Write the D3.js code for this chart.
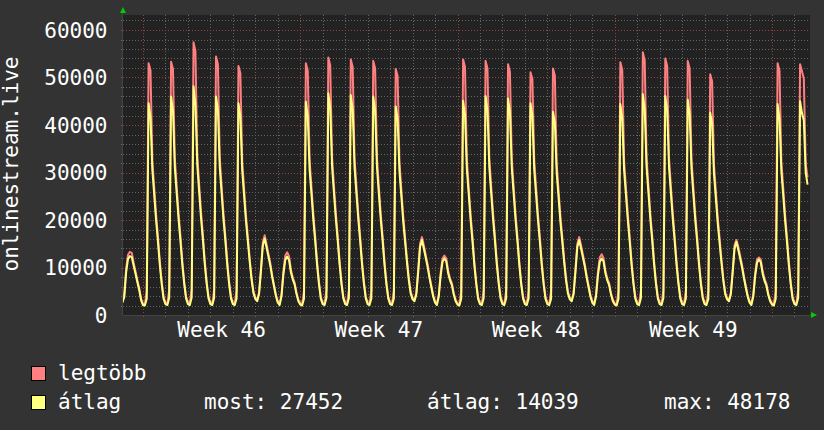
<!DOCTYPE html>
<html>
<head>
<meta charset="utf-8">
<script src="https://cdn.jsdelivr.net/npm/d3@7"></script>
<style>
  body { margin: 0; background: #333333; }
  svg { display: block; }
  text { font-family: "DejaVu Sans Mono", monospace; fill: #ffffff; font-size: 21px; }
</style>
</head>
<body>
<svg id="chart" width="824" height="430"></svg>
<script>
// samples every 2 hours, first one Sunday 14 Nov 2021 02:00
const startTime = Date.UTC(2021, 10, 14, 2);
const stepHours = 2;

// átlag (average)
const atlag = [
  2600, 3800, 9000, 11800, 12400, 12200, 10400, 8700, 6900, 5200, 3100,               // Sun
  2100, 2000, 3400, 44600, 41600, 30500, 25300, 19900, 15400, 10500, 6500, 3400,      // wk46 Mon
  2300, 2100, 3600, 46000, 43100, 31000, 25600, 20200, 15600, 10600, 6600, 3500,
  2300, 2100, 3700, 48178, 44300, 31500, 25900, 20400, 15800, 10700, 6600, 3500,
  2300, 2100, 3600, 46000, 43300, 31100, 25600, 20100, 15600, 10600, 6500, 3500,
  2300, 2100, 3500, 44600, 41900, 30400, 25100, 19800, 15500, 11200, 7400, 4600,
  3400, 2900, 4400, 9200, 14600, 16100, 14200, 12300, 10400, 8000, 6000, 4000,
  2600, 2100, 4000, 8600, 11600, 12300, 11600, 9000, 7500, 6400, 4400, 2900,
  2200, 2000, 3400, 44900, 41800, 30600, 25400, 20000, 15500, 10500, 6500, 3400,      // wk47 Mon
  2300, 2100, 3600, 46700, 43600, 31200, 25700, 20300, 15700, 10700, 6600, 3500,
  2300, 2100, 3600, 46300, 43300, 31100, 25600, 20200, 15600, 10600, 6600, 3500,
  2300, 2100, 3500, 46000, 43000, 31000, 25500, 20100, 15600, 10600, 6500, 3500,
  2300, 2100, 3500, 43900, 41300, 30200, 25000, 19700, 15400, 11100, 7300, 4500,
  3300, 2900, 4300, 9000, 14300, 15800, 14000, 12100, 10200, 7900, 5900, 3900,
  2600, 2100, 3900, 8300, 11200, 11900, 11300, 8800, 7300, 6300, 4300, 2900,
  2200, 2000, 3400, 45100, 42000, 30700, 25400, 20000, 15500, 10500, 6500, 3400,      // wk48 Mon
  2300, 2100, 3600, 46100, 43100, 31000, 25600, 20200, 15600, 10600, 6600, 3500,
  2300, 2100, 3500, 45600, 42700, 30900, 25500, 20100, 15600, 10600, 6500, 3500,
  2300, 2100, 3500, 44600, 41800, 30500, 25200, 19900, 15400, 10500, 6500, 3400,
  2300, 2100, 3400, 42800, 40500, 29800, 24700, 19500, 15300, 11000, 7200, 4500,
  3300, 2900, 4300, 9000, 14300, 15800, 14000, 12100, 10200, 7900, 5900, 3900,
  2600, 2100, 3900, 8300, 11200, 11900, 11300, 8800, 7300, 6300, 4300, 2900,
  2200, 2000, 3400, 44400, 41400, 30400, 25200, 19900, 15400, 10500, 6500, 3400,      // wk49 Mon
  2300, 2100, 3600, 46500, 43400, 31100, 25700, 20200, 15700, 10700, 6600, 3500,
  2300, 2100, 3600, 46100, 43100, 31000, 25600, 20200, 15600, 10600, 6600, 3500,
  2300, 2100, 3500, 45300, 42400, 30800, 25400, 20000, 15500, 10600, 6500, 3500,
  2300, 2100, 3400, 42600, 40300, 29700, 24600, 19400, 15200, 11000, 7200, 4400,
  3300, 2900, 4300, 8900, 14000, 15400, 13700, 11900, 10000, 7800, 5800, 3900,
  2600, 2100, 3900, 8200, 11000, 11700, 11100, 8700, 7200, 6200, 4200, 2900,
  2200, 2000, 3400, 44400, 41400, 30300, 25200, 19900, 15400, 10500, 6500, 3400,      // wk50 Mon
  2300, 2100, 3600, 45000, 42500, 41000, 30000, 27452
];

// legtöbb (maximum)
const legtobb = [
  2900, 4300, 9800, 12700, 13300, 13100, 11000, 9200, 7300, 5600, 3400,
  2400, 2300, 5000, 53000, 51500, 32500, 26800, 21100, 16400, 11200, 7000, 3800,
  2600, 2400, 5300, 53300, 51800, 33000, 27100, 21400, 16600, 11300, 7100, 3900,
  2700, 2400, 5500, 57400, 55600, 33600, 27500, 21700, 16800, 11400, 7100, 3900,
  2700, 2400, 5300, 54400, 52800, 33100, 27100, 21300, 16600, 11300, 7000, 3900,
  2600, 2400, 5200, 52400, 50900, 32400, 26600, 21000, 16500, 11900, 7900, 5000,
  3700, 3200, 4800, 9800, 15300, 16800, 14900, 12900, 10900, 8400, 6300, 4300,
  2900, 2400, 4400, 9200, 12500, 13200, 12400, 9600, 7900, 6800, 4700, 3200,
  2500, 2300, 5000, 53000, 51400, 32600, 26900, 21200, 16500, 11200, 7000, 3800,
  2600, 2400, 5300, 54200, 52600, 33200, 27200, 21500, 16700, 11400, 7100, 3900,
  2700, 2400, 5300, 53800, 52200, 33100, 27100, 21400, 16600, 11300, 7100, 3900,
  2600, 2400, 5200, 53500, 51900, 33000, 27000, 21300, 16600, 11300, 7000, 3900,
  2600, 2400, 5100, 51800, 50300, 32200, 26500, 20900, 16400, 11800, 7800, 4900,
  3600, 3200, 4700, 9600, 15000, 16400, 14700, 12700, 10700, 8300, 6200, 4200,
  2900, 2400, 4300, 8900, 11900, 12500, 11900, 9300, 7700, 6700, 4600, 3200,
  2500, 2300, 5000, 53800, 52200, 32700, 26900, 21200, 16500, 11200, 7000, 3800,
  2600, 2400, 5300, 53500, 51900, 33000, 27100, 21400, 16600, 11300, 7100, 3900,
  2600, 2400, 5200, 52800, 51200, 32900, 27000, 21300, 16600, 11300, 7000, 3900,
  2600, 2400, 5100, 51100, 49700, 32500, 26700, 21100, 16400, 11200, 7000, 3800,
  2600, 2400, 5000, 51900, 50400, 31800, 26200, 20700, 16300, 11700, 7700, 4900,
  3600, 3200, 4700, 9600, 15000, 16400, 14700, 12700, 10700, 8300, 6200, 4200,
  2900, 2400, 4300, 9000, 12100, 12800, 12000, 9300, 7700, 6700, 4600, 3200,
  2500, 2300, 5000, 53200, 51600, 32400, 26700, 21100, 16400, 11200, 7000, 3800,
  2600, 2400, 5300, 55300, 53600, 33100, 27200, 21400, 16700, 11400, 7100, 3900,
  2600, 2400, 5300, 54000, 52400, 33000, 27100, 21400, 16600, 11300, 7100, 3900,
  2600, 2400, 5200, 53500, 51900, 32800, 26900, 21200, 16500, 11300, 7000, 3900,
  2600, 2400, 5000, 50700, 49200, 31700, 26100, 20600, 16200, 11700, 7700, 4800,
  3600, 3200, 4700, 9500, 14700, 15800, 14400, 12500, 10500, 8200, 6100, 4200,
  2900, 2400, 4300, 8800, 11700, 12100, 11700, 9200, 7600, 6600, 4500, 3200,
  2500, 2300, 5000, 53000, 51400, 32300, 26700, 21100, 16400, 11200, 7000, 3800,
  2600, 2400, 5300, 52800, 51300, 49800, 31800, 29000
];

const yTicks = [0, 10000, 20000, 30000, 40000, 50000, 60000];
const yMinorStep = 2000;
const yTitle = "onlinestream.live";
const legendNames = ["legtöbb", "átlag"];
const legendColors = ["#ff8080", "#ffff80"];
const statLabels = ["most: 27452", "átlag: 14039", "max: 48178"];
const statX = [204, 427, 664];

var w = 824, h = 430;
var pLeft = 123, pRight = 810, pTop = 15, pBottom = 315;
var minorColor = "#656565", majorColor = "#9a4242";

var svg = d3.select("#chart");
svg.append("rect").attr("width", w).attr("height", h).attr("fill", "#333333");
svg.append("rect")
  .attr("x", pLeft).attr("y", pTop)
  .attr("width", pRight - pLeft).attr("height", pBottom - pTop)
  .attr("fill", "#222222");

var x = d3.scaleUtc()
  .domain([new Date(Date.UTC(2021, 10, 15)), new Date(Date.UTC(2021, 11, 13))])
  .range([143, 772]);
var y = d3.scaleLinear().domain([0, 60000]).range([pBottom, 30]);

var t0 = x.invert(pLeft), t1 = x.invert(pRight);
var days = d3.utcDay.range(t0, t1);
var weeks = d3.utcMonday.range(t0, t1);
var yMinor = d3.range(yMinorStep, y.invert(pTop), yMinorStep);

var grid = svg.append("g");
// minor grid
grid.selectAll(".vmin").data(days).enter().append("line")
  .attr("x1", d => Math.round(x(d)) + 0.5).attr("x2", d => Math.round(x(d)) + 0.5)
  .attr("y1", pTop).attr("y2", pBottom)
  .attr("stroke", minorColor).attr("stroke-dasharray", "1,2");
grid.selectAll(".hmin").data(yMinor).enter().append("line")
  .attr("x1", pLeft).attr("x2", pRight)
  .attr("y1", d => Math.round(y(d)) + 0.5).attr("y2", d => Math.round(y(d)) + 0.5)
  .attr("stroke", minorColor).attr("stroke-dasharray", "1,2");
// major grid
grid.selectAll(".vmaj").data(weeks).enter().append("line")
  .attr("x1", d => Math.round(x(d)) + 0.5).attr("x2", d => Math.round(x(d)) + 0.5)
  .attr("y1", pTop).attr("y2", pBottom)
  .attr("stroke", majorColor).attr("stroke-dasharray", "1,2");
grid.selectAll(".hmaj").data(yTicks.slice(1)).enter().append("line")
  .attr("x1", pLeft).attr("x2", pRight)
  .attr("y1", d => Math.round(y(d)) + 0.5).attr("y2", d => Math.round(y(d)) + 0.5)
  .attr("stroke", majorColor).attr("stroke-dasharray", "1,2");

// little ticks outside the plot
grid.selectAll(".vtick").data(days).enter().append("line")
  .attr("x1", d => Math.round(x(d)) + 0.5).attr("x2", d => Math.round(x(d)) + 0.5)
  .attr("y1", pBottom).attr("y2", pBottom + 2)
  .attr("stroke", d => d.getUTCDay() == 1 ? majorColor : minorColor);
grid.selectAll(".htick").data(yMinor).enter().append("line")
  .attr("x1", pLeft - 2).attr("x2", pLeft)
  .attr("y1", d => Math.round(y(d)) + 0.5).attr("y2", d => Math.round(y(d)) + 0.5)
  .attr("stroke", d => d % 10000 == 0 ? majorColor : minorColor);

// axes
svg.append("line").attr("x1", pLeft).attr("x2", pRight + 1).attr("y1", pBottom + 0.5).attr("y2", pBottom + 0.5)
  .attr("stroke", "#444444");
svg.append("line").attr("x1", pLeft - 0.5).attr("x2", pLeft - 0.5).attr("y1", pTop - 2).attr("y2", pBottom)
  .attr("stroke", "#444444");
svg.append("path").attr("d", `M${pLeft - 3},13 L${pLeft + 3},13 L${pLeft},7 Z`).attr("fill", "#00cc00");
svg.append("path").attr("d", `M${pRight + 1},312 L${pRight + 1},318 L${pRight + 7},315 Z`).attr("fill", "#00cc00");

// y labels
svg.selectAll(".ylab").data(yTicks).enter().append("text")
  .attr("x", 107.5).attr("y", d => y(d) + 7.5)
  .attr("text-anchor", "end")
  .text(d => d);

svg.append("text")
  .attr("transform", "translate(18,164) rotate(-90)")
  .attr("text-anchor", "middle")
  .text(yTitle);

// week labels in the middle of each week (only whole weeks inside the plot)
var labelWeeks = weeks.filter(d => x(d3.utcHour.offset(d, 84)) < pRight - 40);
svg.selectAll(".xlab").data(labelWeeks).enter().append("text")
  .attr("x", d => x(d3.utcHour.offset(d, 84)))
  .attr("y", 337)
  .attr("text-anchor", "middle")
  .text(d => "Week " + d3.utcFormat("%V")(d));

// lines
svg.append("clipPath").attr("id", "plotclip").append("rect")
  .attr("x", pLeft).attr("y", pTop).attr("width", pRight - pLeft).attr("height", pBottom - pTop);

function toPoints(arr) {
  return arr.map((v, i) => ({ t: new Date(startTime + i * stepHours * 3600000), v: v }));
}
var line = d3.line().x(d => x(d.t)).y(d => y(d.v));

var plot = svg.append("g").attr("clip-path", "url(#plotclip)");
plot.append("path").datum(toPoints(legtobb))
  .attr("d", line).attr("fill", "none")
  .attr("stroke", legendColors[0]).attr("stroke-width", 2).attr("stroke-linejoin", "round");
plot.append("path").datum(toPoints(atlag))
  .attr("d", line).attr("fill", "none")
  .attr("stroke", legendColors[1]).attr("stroke-width", 2).attr("stroke-linejoin", "round");

// legend
var leg = svg.selectAll(".leg").data(legendNames).enter().append("g")
  .attr("transform", (d, i) => `translate(31,${366 + i * 29})`);
leg.append("rect").attr("x", 0.5).attr("y", 0.5).attr("width", 14).attr("height", 14)
  .attr("fill", (d, i) => legendColors[i]).attr("stroke", "#000000");
leg.append("text").attr("x", 27).attr("y", 14).text(d => d);

svg.selectAll(".stat").data(statLabels).enter().append("text")
  .attr("x", (d, i) => statX[i]).attr("y", 366 + 29 + 14)
  .text(d => d);
</script>
</body>
</html>
